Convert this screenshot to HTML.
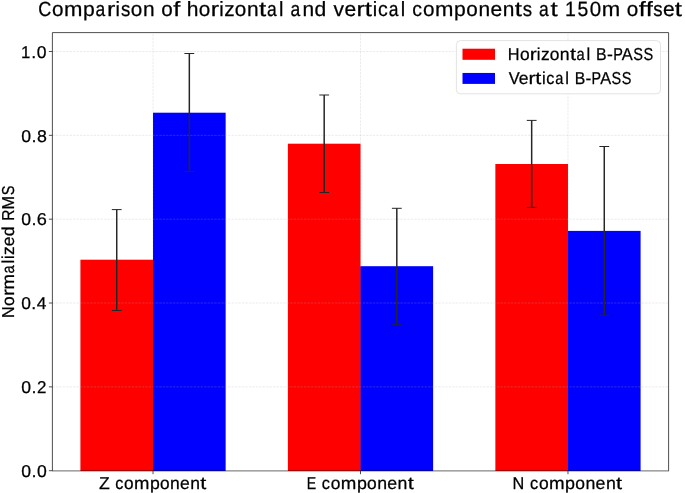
<!DOCTYPE html>
<html><head><meta charset="utf-8"><style>
html,body{margin:0;padding:0;background:#fff;width:685px;height:493px;overflow:hidden}
svg{display:block;will-change:transform}
text{fill:#000;stroke:#000;stroke-width:0.25px;stroke-linejoin:round;text-rendering:geometricPrecision;font-kerning:none;font-variant-ligatures:none;font-feature-settings:'liga' 0,'kern' 0}
</style></head><body>
<svg width="685" height="493" viewBox="0 0 685 493" font-family='"Liberation Sans", sans-serif'>
<rect x="0" y="0" width="685" height="493" fill="#fff"/>
<g stroke="#b0b0b0" stroke-opacity="0.3" stroke-width="0.8" stroke-dasharray="2.406 1.04"><line x1="153.03" x2="153.03" y1="470.70" y2="32.60"/><line x1="360.50" x2="360.50" y1="470.70" y2="32.60"/><line x1="567.97" x2="567.97" y1="470.70" y2="32.60"/></g>
<rect x="80.41" y="259.70" width="72.62" height="211.30" fill="#ff0000"/>
<rect x="152.83" y="260.20" width="1.2" height="210.80" fill="#ff0000"/>
<rect x="153.03" y="112.70" width="72.62" height="358.30" fill="#0000ff"/>
<rect x="287.88" y="143.70" width="72.62" height="327.30" fill="#ff0000"/>
<rect x="360.30" y="266.70" width="1.2" height="204.30" fill="#ff0000"/>
<rect x="360.50" y="266.20" width="72.62" height="204.80" fill="#0000ff"/>
<rect x="495.36" y="164.00" width="72.62" height="307.00" fill="#ff0000"/>
<rect x="567.77" y="231.40" width="1.2" height="239.60" fill="#ff0000"/>
<rect x="567.97" y="230.90" width="72.62" height="240.10" fill="#0000ff"/>
<g stroke="#b0b0b0" stroke-opacity="0.3" stroke-width="0.8" stroke-dasharray="2.406 1.04"><line x1="52.40" x2="668.60" y1="386.86" y2="386.86"/><line x1="52.40" x2="668.60" y1="303.02" y2="303.02"/><line x1="52.40" x2="668.60" y1="219.18" y2="219.18"/><line x1="52.40" x2="668.60" y1="135.34" y2="135.34"/><line x1="52.40" x2="668.60" y1="51.50" y2="51.50"/></g>
<g stroke="#262626" stroke-width="1.5"><line x1="116.72" x2="116.72" y1="209.60" y2="310.50"/><line x1="111.82" x2="121.62" y1="209.60" y2="209.60" stroke-width="1"/><line x1="111.82" x2="121.62" y1="310.50" y2="310.50" stroke-width="1"/><line x1="189.33" x2="189.33" y1="53.50" y2="171.60"/><line x1="184.43" x2="194.23" y1="53.50" y2="53.50" stroke-width="1"/><line x1="184.43" x2="194.23" y1="171.60" y2="171.60" stroke-width="1"/><line x1="324.19" x2="324.19" y1="95.00" y2="192.50"/><line x1="319.29" x2="329.09" y1="95.00" y2="95.00" stroke-width="1"/><line x1="319.29" x2="329.09" y1="192.50" y2="192.50" stroke-width="1"/><line x1="396.81" x2="396.81" y1="208.30" y2="324.90"/><line x1="391.91" x2="401.71" y1="208.30" y2="208.30" stroke-width="1"/><line x1="391.91" x2="401.71" y1="324.90" y2="324.90" stroke-width="1"/><line x1="531.67" x2="531.67" y1="120.40" y2="207.40"/><line x1="526.77" x2="536.57" y1="120.40" y2="120.40" stroke-width="1"/><line x1="526.77" x2="536.57" y1="207.40" y2="207.40" stroke-width="1"/><line x1="604.28" x2="604.28" y1="146.50" y2="315.20"/><line x1="599.38" x2="609.18" y1="146.50" y2="146.50" stroke-width="1"/><line x1="599.38" x2="609.18" y1="315.20" y2="315.20" stroke-width="1"/></g>
<path d="M52.40 470.70V32.60H668.60V470.70" fill="none" stroke="#222" stroke-width="0.8" stroke-linejoin="miter"/>
<line x1="52.00" x2="669.00" y1="470.9" y2="470.9" stroke="#000" stroke-width="0.6"/>
<g stroke="#222" stroke-width="0.8"><line x1="48.90" x2="52.40" y1="470.70" y2="470.70"/><line x1="48.90" x2="52.40" y1="386.86" y2="386.86"/><line x1="48.90" x2="52.40" y1="303.02" y2="303.02"/><line x1="48.90" x2="52.40" y1="219.18" y2="219.18"/><line x1="48.90" x2="52.40" y1="135.34" y2="135.34"/><line x1="48.90" x2="52.40" y1="51.50" y2="51.50"/><line x1="153.03" x2="153.03" y1="470.70" y2="474.20"/><line x1="360.50" x2="360.50" y1="470.70" y2="474.20"/><line x1="567.97" x2="567.97" y1="470.70" y2="474.20"/></g>
<text y="476.90" font-size="17.1"><tspan x="21.21" textLength="9.79" lengthAdjust="spacingAndGlyphs">0</tspan><tspan x="31.46" textLength="5.02" lengthAdjust="spacingAndGlyphs">.</tspan><tspan x="36.99" textLength="9.79" lengthAdjust="spacingAndGlyphs">0</tspan></text>
<text y="393.06" font-size="17.1"><tspan x="21.21" textLength="9.78" lengthAdjust="spacingAndGlyphs">0</tspan><tspan x="31.44" textLength="5.01" lengthAdjust="spacingAndGlyphs">.</tspan><tspan x="36.93" textLength="9.42" lengthAdjust="spacingAndGlyphs">2</tspan></text>
<text y="309.22" font-size="17.1"><tspan x="21.22" textLength="9.68" lengthAdjust="spacingAndGlyphs">0</tspan><tspan x="31.35" textLength="4.97" lengthAdjust="spacingAndGlyphs">.</tspan><tspan x="36.82" textLength="9.69" lengthAdjust="spacingAndGlyphs">4</tspan></text>
<text y="225.38" font-size="17.1"><tspan x="21.21" textLength="9.77" lengthAdjust="spacingAndGlyphs">0</tspan><tspan x="31.43" textLength="5.01" lengthAdjust="spacingAndGlyphs">.</tspan><tspan x="36.79" textLength="10.11" lengthAdjust="spacingAndGlyphs">6</tspan></text>
<text y="141.54" font-size="17.1"><tspan x="21.21" textLength="9.81" lengthAdjust="spacingAndGlyphs">0</tspan><tspan x="31.47" textLength="5.03" lengthAdjust="spacingAndGlyphs">.</tspan><tspan x="36.96" textLength="9.91" lengthAdjust="spacingAndGlyphs">8</tspan></text>
<text y="57.70" font-size="17.1"><tspan x="21.02" textLength="9.32" lengthAdjust="spacingAndGlyphs">1</tspan><tspan x="31.21" textLength="5.00" lengthAdjust="spacingAndGlyphs">.</tspan><tspan x="36.73" textLength="9.76" lengthAdjust="spacingAndGlyphs">0</tspan></text>
<text y="488.90" font-size="17.27"><tspan x="99.04" textLength="10.77" lengthAdjust="spacingAndGlyphs">Z</tspan> <tspan x="115.26" textLength="8.14" lengthAdjust="spacingAndGlyphs">c</tspan><tspan x="124.11" textLength="9.60" lengthAdjust="spacingAndGlyphs">o</tspan><tspan x="134.04" textLength="15.40" lengthAdjust="spacingAndGlyphs">m</tspan><tspan x="149.96" textLength="9.82" lengthAdjust="spacingAndGlyphs">p</tspan><tspan x="160.01" textLength="9.60" lengthAdjust="spacingAndGlyphs">o</tspan><tspan x="170.01" textLength="9.73" lengthAdjust="spacingAndGlyphs">n</tspan><tspan x="180.07" textLength="9.75" lengthAdjust="spacingAndGlyphs">e</tspan><tspan x="190.21" textLength="9.73" lengthAdjust="spacingAndGlyphs">n</tspan><tspan x="200.23" textLength="6.03" lengthAdjust="spacingAndGlyphs">t</tspan></text>
<text y="488.90" font-size="17.27"><tspan x="306.73" textLength="9.47" lengthAdjust="spacingAndGlyphs">E</tspan> <tspan x="321.86" textLength="8.22" lengthAdjust="spacingAndGlyphs">c</tspan><tspan x="330.80" textLength="9.69" lengthAdjust="spacingAndGlyphs">o</tspan><tspan x="340.83" textLength="15.56" lengthAdjust="spacingAndGlyphs">m</tspan><tspan x="356.90" textLength="9.92" lengthAdjust="spacingAndGlyphs">p</tspan><tspan x="367.06" textLength="9.69" lengthAdjust="spacingAndGlyphs">o</tspan><tspan x="377.15" textLength="9.83" lengthAdjust="spacingAndGlyphs">n</tspan><tspan x="387.32" textLength="9.85" lengthAdjust="spacingAndGlyphs">e</tspan><tspan x="397.56" textLength="9.83" lengthAdjust="spacingAndGlyphs">n</tspan><tspan x="407.67" textLength="6.09" lengthAdjust="spacingAndGlyphs">t</tspan></text>
<text y="488.90" font-size="17.27"><tspan x="512.57" textLength="11.73" lengthAdjust="spacingAndGlyphs">N</tspan> <tspan x="530.00" textLength="8.25" lengthAdjust="spacingAndGlyphs">c</tspan><tspan x="538.96" textLength="9.72" lengthAdjust="spacingAndGlyphs">o</tspan><tspan x="549.02" textLength="15.60" lengthAdjust="spacingAndGlyphs">m</tspan><tspan x="565.14" textLength="9.95" lengthAdjust="spacingAndGlyphs">p</tspan><tspan x="575.32" textLength="9.72" lengthAdjust="spacingAndGlyphs">o</tspan><tspan x="585.45" textLength="9.86" lengthAdjust="spacingAndGlyphs">n</tspan><tspan x="595.64" textLength="9.87" lengthAdjust="spacingAndGlyphs">e</tspan><tspan x="605.91" textLength="9.86" lengthAdjust="spacingAndGlyphs">n</tspan><tspan x="616.06" textLength="6.10" lengthAdjust="spacingAndGlyphs">t</tspan></text>
<text transform="translate(14.20 316.70) rotate(-90)" y="0" font-size="17.27"><tspan x="-1.32" textLength="11.61" lengthAdjust="spacingAndGlyphs">N</tspan><tspan x="10.78" textLength="9.62" lengthAdjust="spacingAndGlyphs">o</tspan><tspan x="20.59" textLength="6.95" lengthAdjust="spacingAndGlyphs">r</tspan><tspan x="27.21" textLength="15.45" lengthAdjust="spacingAndGlyphs">m</tspan><tspan x="43.19" textLength="8.14" lengthAdjust="spacingAndGlyphs">a</tspan><tspan x="53.13" textLength="3.70" lengthAdjust="spacingAndGlyphs">l</tspan><tspan x="57.66" textLength="3.70" lengthAdjust="spacingAndGlyphs">i</tspan><tspan x="61.74" textLength="8.72" lengthAdjust="spacingAndGlyphs">z</tspan><tspan x="70.45" textLength="9.78" lengthAdjust="spacingAndGlyphs">e</tspan><tspan x="80.46" textLength="9.84" lengthAdjust="spacingAndGlyphs">d</tspan> <tspan x="96.01" textLength="11.24" lengthAdjust="spacingAndGlyphs">R</tspan><tspan x="107.30" textLength="13.52" lengthAdjust="spacingAndGlyphs">M</tspan><tspan x="121.49" textLength="9.68" lengthAdjust="spacingAndGlyphs">S</tspan></text>
<text y="16.30" font-size="20.6"><tspan x="38.28" textLength="13.04" lengthAdjust="spacingAndGlyphs">C</tspan><tspan x="51.94" textLength="11.50" lengthAdjust="spacingAndGlyphs">o</tspan><tspan x="64.03" textLength="18.45" lengthAdjust="spacingAndGlyphs">m</tspan><tspan x="83.02" textLength="11.76" lengthAdjust="spacingAndGlyphs">p</tspan><tspan x="95.42" textLength="9.72" lengthAdjust="spacingAndGlyphs">a</tspan><tspan x="106.98" textLength="8.30" lengthAdjust="spacingAndGlyphs">r</tspan><tspan x="115.50" textLength="4.42" lengthAdjust="spacingAndGlyphs">i</tspan><tspan x="121.04" textLength="9.32" lengthAdjust="spacingAndGlyphs">s</tspan><tspan x="130.83" textLength="11.50" lengthAdjust="spacingAndGlyphs">o</tspan><tspan x="143.00" textLength="11.66" lengthAdjust="spacingAndGlyphs">n</tspan> <tspan x="161.34" textLength="11.50" lengthAdjust="spacingAndGlyphs">o</tspan><tspan x="173.22" textLength="7.09" lengthAdjust="spacingAndGlyphs">f</tspan> <tspan x="186.69" textLength="11.74" lengthAdjust="spacingAndGlyphs">h</tspan><tspan x="198.85" textLength="11.50" lengthAdjust="spacingAndGlyphs">o</tspan><tspan x="210.76" textLength="8.30" lengthAdjust="spacingAndGlyphs">r</tspan><tspan x="219.27" textLength="4.42" lengthAdjust="spacingAndGlyphs">i</tspan><tspan x="224.26" textLength="10.42" lengthAdjust="spacingAndGlyphs">z</tspan><tspan x="234.85" textLength="11.50" lengthAdjust="spacingAndGlyphs">o</tspan><tspan x="247.03" textLength="11.66" lengthAdjust="spacingAndGlyphs">n</tspan><tspan x="259.03" textLength="7.22" lengthAdjust="spacingAndGlyphs">t</tspan><tspan x="266.96" textLength="9.72" lengthAdjust="spacingAndGlyphs">a</tspan><tspan x="278.90" textLength="4.42" lengthAdjust="spacingAndGlyphs">l</tspan> <tspan x="290.59" textLength="9.72" lengthAdjust="spacingAndGlyphs">a</tspan><tspan x="302.41" textLength="11.66" lengthAdjust="spacingAndGlyphs">n</tspan><tspan x="314.48" textLength="11.75" lengthAdjust="spacingAndGlyphs">d</tspan> <tspan x="333.43" textLength="10.49" lengthAdjust="spacingAndGlyphs">v</tspan><tspan x="344.60" textLength="11.68" lengthAdjust="spacingAndGlyphs">e</tspan><tspan x="356.54" textLength="8.30" lengthAdjust="spacingAndGlyphs">r</tspan><tspan x="364.68" textLength="7.22" lengthAdjust="spacingAndGlyphs">t</tspan><tspan x="372.68" textLength="4.42" lengthAdjust="spacingAndGlyphs">i</tspan><tspan x="377.92" textLength="9.76" lengthAdjust="spacingAndGlyphs">c</tspan><tspan x="388.86" textLength="9.72" lengthAdjust="spacingAndGlyphs">a</tspan><tspan x="400.80" textLength="4.42" lengthAdjust="spacingAndGlyphs">l</tspan> <tspan x="412.31" textLength="9.76" lengthAdjust="spacingAndGlyphs">c</tspan><tspan x="423.02" textLength="11.50" lengthAdjust="spacingAndGlyphs">o</tspan><tspan x="435.11" textLength="18.45" lengthAdjust="spacingAndGlyphs">m</tspan><tspan x="454.10" textLength="11.76" lengthAdjust="spacingAndGlyphs">p</tspan><tspan x="466.28" textLength="11.50" lengthAdjust="spacingAndGlyphs">o</tspan><tspan x="478.45" textLength="11.66" lengthAdjust="spacingAndGlyphs">n</tspan><tspan x="490.51" textLength="11.68" lengthAdjust="spacingAndGlyphs">e</tspan><tspan x="502.70" textLength="11.66" lengthAdjust="spacingAndGlyphs">n</tspan><tspan x="514.71" textLength="7.22" lengthAdjust="spacingAndGlyphs">t</tspan><tspan x="522.74" textLength="9.32" lengthAdjust="spacingAndGlyphs">s</tspan> <tspan x="539.01" textLength="9.72" lengthAdjust="spacingAndGlyphs">a</tspan><tspan x="550.59" textLength="7.22" lengthAdjust="spacingAndGlyphs">t</tspan> <tspan x="564.99" textLength="10.89" lengthAdjust="spacingAndGlyphs">1</tspan><tspan x="577.45" textLength="10.76" lengthAdjust="spacingAndGlyphs">5</tspan><tspan x="589.70" textLength="11.40" lengthAdjust="spacingAndGlyphs">0</tspan><tspan x="601.77" textLength="18.45" lengthAdjust="spacingAndGlyphs">m</tspan> <tspan x="626.81" textLength="11.50" lengthAdjust="spacingAndGlyphs">o</tspan><tspan x="638.69" textLength="7.09" lengthAdjust="spacingAndGlyphs">f</tspan><tspan x="645.69" textLength="7.09" lengthAdjust="spacingAndGlyphs">f</tspan><tspan x="653.15" textLength="9.32" lengthAdjust="spacingAndGlyphs">s</tspan><tspan x="662.92" textLength="11.68" lengthAdjust="spacingAndGlyphs">e</tspan><tspan x="674.87" textLength="7.22" lengthAdjust="spacingAndGlyphs">t</tspan></text>
<rect x="456.4" y="40.6" width="204.1" height="53.2" rx="4" ry="4" fill="#fff" fill-opacity="0.8" stroke="#e3e3e3" stroke-width="1"/>
<rect x="462.5" y="48.7" width="32.5" height="11.1" fill="#ff0000"/>
<rect x="462.5" y="72.95" width="32.5" height="10.95" fill="#0000ff"/>
<text y="59.90" font-size="17.27"><tspan x="507.77" textLength="11.75" lengthAdjust="spacingAndGlyphs">H</tspan><tspan x="519.93" textLength="9.67" lengthAdjust="spacingAndGlyphs">o</tspan><tspan x="529.79" textLength="6.98" lengthAdjust="spacingAndGlyphs">r</tspan><tspan x="536.86" textLength="3.71" lengthAdjust="spacingAndGlyphs">i</tspan><tspan x="540.97" textLength="8.76" lengthAdjust="spacingAndGlyphs">z</tspan><tspan x="549.73" textLength="9.67" lengthAdjust="spacingAndGlyphs">o</tspan><tspan x="559.81" textLength="9.81" lengthAdjust="spacingAndGlyphs">n</tspan><tspan x="569.90" textLength="6.07" lengthAdjust="spacingAndGlyphs">t</tspan><tspan x="576.53" textLength="8.18" lengthAdjust="spacingAndGlyphs">a</tspan><tspan x="586.52" textLength="3.71" lengthAdjust="spacingAndGlyphs">l</tspan> <tspan x="596.09" textLength="10.60" lengthAdjust="spacingAndGlyphs">B</tspan><tspan x="606.97" textLength="5.87" lengthAdjust="spacingAndGlyphs">-</tspan><tspan x="613.13" textLength="9.65" lengthAdjust="spacingAndGlyphs">P</tspan><tspan x="621.76" textLength="10.99" lengthAdjust="spacingAndGlyphs">A</tspan><tspan x="633.24" textLength="9.72" lengthAdjust="spacingAndGlyphs">S</tspan><tspan x="643.55" textLength="9.72" lengthAdjust="spacingAndGlyphs">S</tspan></text>
<text y="84.00" font-size="17.27"><tspan x="508.73" textLength="10.99" lengthAdjust="spacingAndGlyphs">V</tspan><tspan x="518.68" textLength="9.75" lengthAdjust="spacingAndGlyphs">e</tspan><tspan x="528.61" textLength="6.93" lengthAdjust="spacingAndGlyphs">r</tspan><tspan x="535.32" textLength="6.03" lengthAdjust="spacingAndGlyphs">t</tspan><tspan x="541.96" textLength="3.69" lengthAdjust="spacingAndGlyphs">i</tspan><tspan x="546.25" textLength="8.14" lengthAdjust="spacingAndGlyphs">c</tspan><tspan x="555.29" textLength="8.12" lengthAdjust="spacingAndGlyphs">a</tspan><tspan x="565.20" textLength="3.69" lengthAdjust="spacingAndGlyphs">l</tspan> <tspan x="574.71" textLength="10.52" lengthAdjust="spacingAndGlyphs">B</tspan><tspan x="585.50" textLength="5.83" lengthAdjust="spacingAndGlyphs">-</tspan><tspan x="591.62" textLength="9.58" lengthAdjust="spacingAndGlyphs">P</tspan><tspan x="600.19" textLength="10.91" lengthAdjust="spacingAndGlyphs">A</tspan><tspan x="611.59" textLength="9.65" lengthAdjust="spacingAndGlyphs">S</tspan><tspan x="621.81" textLength="9.65" lengthAdjust="spacingAndGlyphs">S</tspan></text>
</svg>
</body></html>
